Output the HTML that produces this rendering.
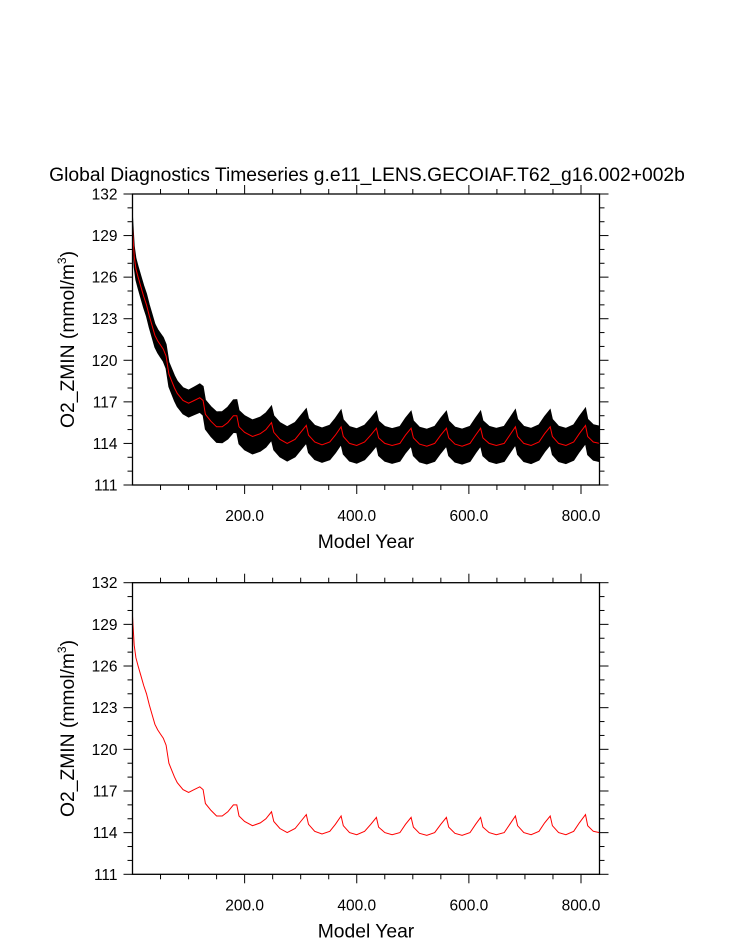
<!DOCTYPE html>
<html><head><meta charset="utf-8"><style>
html,body{margin:0;padding:0;background:#fff;}
svg{display:block;font-family:"Liberation Sans",Arial,sans-serif;}
</style></head><body>
<svg id="chart" width="733" height="945" viewBox="0 0 733 945" xmlns="http://www.w3.org/2000/svg">
<text x="367" y="181" font-size="19.3" text-anchor="middle">Global Diagnostics Timeseries g.e11_LENS.GECOIAF.T62_g16.002+002b</text>
</svg>
<script>
const years=[0,3,6,10,15,20,25,30,35,40,45,50,55,60,65,70,75,80,90,100,110,120,126,130,140,150,160,170,180,186,
190,200,214,228,238,248,252,263,276,290,300,310,314,325,338,352,362,372,376,387,400,414,425,435,
439,450,463,477,487,497,501,512,525,539,550,560,564,575,588,602,612,621,625,636,649,663,673,683,
687,698,711,725,735,745,749,760,773,787,797,808,812,822,833];
const meanVals=[129.6,127.5,126.6,126.0,125.3,124.6,124.0,123.2,122.5,121.8,121.4,121.1,120.8,120.3,119.0,118.5,118.0,117.6,117.1,116.9,117.1,117.3,117.1,116.1,115.6,115.2,115.2,115.5,116.0,116.0,
115.2,114.8,114.5,114.7,115.0,115.5,114.8,114.3,114.0,114.3,114.8,115.3,114.6,114.1,113.9,114.1,114.6,115.2,114.5,114.0,113.85,114.1,114.6,115.1,
114.4,114.0,113.85,114.0,114.6,115.1,114.4,113.95,113.8,114.0,114.6,115.1,114.4,113.95,113.8,114.0,114.6,115.1,114.4,114.0,113.85,114.0,114.6,115.2,
114.5,114.0,113.85,114.1,114.7,115.2,114.5,114.0,113.85,114.1,114.7,115.3,114.5,114.1,114.0];
const ampYears=[0,60,120,200,833];
const ampVals=[0.75,0.85,1.0,1.2,1.25];
const yTicks=[111,114,117,120,123,126,129,132];
const xTicks=[200,400,600,800];
const xTickLabels=["200.0","400.0","600.0","800.0"];

const NS="http://www.w3.org/2000/svg";
const svg=document.getElementById('chart');
const X0=132.5,X1=599.5,XMIN=0,XMAX=833,YMIN=111,YMAX=132;
function mk(tag,attrs,parent){const e=document.createElementNS(NS,tag);for(const k in attrs)e.setAttribute(k,attrs[k]);(parent||svg).appendChild(e);return e;}
function ampAt(yr){for(let i=1;i<ampYears.length;i++){if(yr<=ampYears[i]){const t=(yr-ampYears[i-1])/(ampYears[i]-ampYears[i-1]);return ampVals[i-1]+t*(ampVals[i]-ampVals[i-1]);}}return ampVals[ampVals.length-1];}

function panel(top,bottom,withBand,name){
  const g=mk('g',{});
  
  
  const sx=v=>X0+(v-XMIN)/(XMAX-XMIN)*(X1-X0);
  const sy=v=>bottom-(v-YMIN)/(YMAX-YMIN)*(bottom-top);
  const clip=mk('clipPath',{id:'c'+name},g);
  mk('rect',{x:X0,y:top,width:X1-X0,height:bottom-top},clip);
  const dg=mk('g',{'clip-path':'url(#c'+name+')'},g);
  if(withBand){
    let up=[],lo=[];
    for(let i=0;i<years.length;i++){const a=ampAt(years[i]);up.push(sx(years[i]).toFixed(1)+','+sy(meanVals[i]+a).toFixed(1));lo.unshift(sx(years[i]).toFixed(1)+','+sy(meanVals[i]-a*1.05).toFixed(1));}
    const band=mk('polygon',{points:up.concat(lo).join(' '),fill:'#000',stroke:'#000','stroke-width':1},dg);
    
    
  }
  const pts=years.map((y,i)=>sx(y).toFixed(1)+','+sy(meanVals[i]).toFixed(1)).join(' ');
  const line=mk('polyline',{points:pts,fill:'none',stroke:'#ff0000','stroke-width':1},dg);
  
  
  const fr=mk('rect',{x:X0,y:top,width:X1-X0,height:bottom-top,fill:'none',stroke:'#000','stroke-width':1.3},g);
  
  
  for(let v=YMIN;v<=YMAX;v++){
    const major=(v-YMIN)%3===0;const L=major?9:5;const y=sy(v);
    mk('line',{x1:X0-L,x2:X0,y1:y,y2:y,stroke:'#000','stroke-width':1},g);
    mk('line',{x1:X1,x2:X1+L,y1:y,y2:y,stroke:'#000','stroke-width':1},g);
  }
  yTicks.forEach(v=>{const t=mk('text',{x:X0-15,y:sy(v)+5.5,'font-size':15.5,'text-anchor':'end'},g);t.textContent=String(v);
    
    });
  for(let v=50;v<XMAX;v+=50){
    const major=v%200===0;const L=major?9:5;const x=sx(v);
    mk('line',{x1:x,x2:x,y1:bottom,y2:bottom+L,stroke:'#000','stroke-width':1},g);
    mk('line',{x1:x,x2:x,y1:top-L,y2:top,stroke:'#000','stroke-width':1},g);
  }
  xTicks.forEach((v,i)=>{const t=mk('text',{x:sx(v),y:bottom+36,'font-size':15.5,'text-anchor':'middle'},g);t.textContent=xTickLabels[i];
    
    });
  const xt=mk('text',{x:(X0+X1)/2,y:bottom+63,'font-size':19.3,'text-anchor':'middle'},g);xt.textContent='Model Year';
  
  
  const cy=(top+bottom)/2;
  const yt=mk('text',{x:0,y:0,'font-size':19.3,'text-anchor':'middle',transform:'translate(74,'+cy+') rotate(-90)'},g);
  yt.innerHTML='O2_ZMIN (mmol/m<tspan dy="-8" font-size="12">3</tspan><tspan dy="8">)</tspan>';
  
  
}
panel(194,485,true,'top-panel');
panel(582.7,874.3,false,'bottom-panel');
</script>
</body></html>
